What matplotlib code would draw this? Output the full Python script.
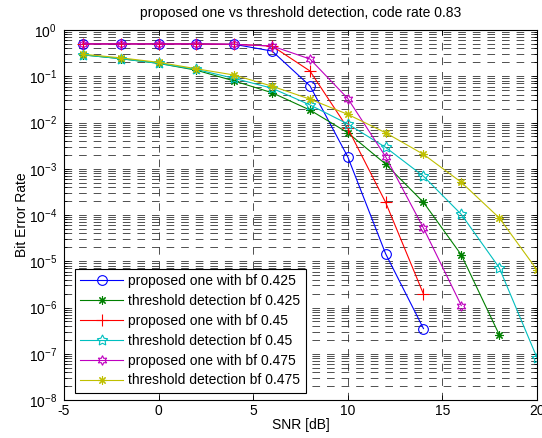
import matplotlib
matplotlib.use("Agg")
import matplotlib.pyplot as plt
from matplotlib.ticker import LogLocator, NullFormatter, FixedLocator

plt.rcParams['font.family'] = ['Liberation Sans', 'DejaVu Sans']
plt.rcParams['mathtext.fontset'] = 'custom'
plt.rcParams['mathtext.rm'] = 'Liberation Sans'
plt.rcParams['mathtext.it'] = 'Liberation Sans:italic'
plt.rcParams['mathtext.default'] = 'regular'
plt.rcParams['axes.unicode_minus'] = False
plt.rcParams['font.size'] = 10
plt.rcParams['lines.scale_dashes'] = False

title = "proposed one vs threshold detection, code rate 0.83"
xlabel = "SNR [dB]"
ylabel = "Bit Error Rate"

snr = [-4, -2, 0, 2, 4, 6, 8, 10, 12, 14, 16, 18, 20]

prop_0425 = [0.5, 0.5, 0.5, 0.5, 0.49, 0.35, 0.062, 1.8e-3, 1.45e-5, 3.5e-7]
thr_0425 = [0.29, 0.24, 0.19, 0.135, 0.079, 0.044, 0.0186, 6.0e-3, 1.26e-3, 1.88e-4, 1.37e-5, 2.6e-7]
prop_045 = [0.5, 0.5, 0.5, 0.5, 0.49, 0.45, 0.13, 7.5e-3, 1.87e-4, 1.95e-6]
thr_045 = [0.29, 0.24, 0.19, 0.14, 0.09, 0.055, 0.024, 9.3e-3, 2.9e-3, 6.9e-4, 1.03e-4, 7.3e-6, 8.2e-8]
prop_0475 = [0.5, 0.5, 0.5, 0.5, 0.49, 0.45, 0.236, 0.033, 1.82e-3, 5.2e-5, 1.1e-6]
thr_0475 = [0.3, 0.25, 0.2, 0.145, 0.106, 0.061, 0.032, 0.015, 6.0e-3, 2.05e-3, 5.1e-4, 8.7e-5, 6.5e-6]

labels = ["proposed one with bf 0.425", "threshold detection bf 0.425",
          "proposed one with bf 0.45", "threshold detection bf 0.45",
          "proposed one with bf 0.475", "threshold detection bf 0.475"]

asterisk = (8, 2, 0)
series = [
    (prop_0425, 'b', 'o', 7, 'none'),
    (thr_0425, 'g', asterisk, 6, 'g'),
    (prop_045, 'r', '+', 8, 'none'),
    (thr_045, 'c', (5, 1, 0), 8, 'none'),
    (prop_0475, 'm', (6, 1, 0), 7, 'none'),
    (thr_0475, 'y', asterisk, 6, 'y'),
]
colors = {'b': '#0000ff', 'g': '#008000', 'r': '#ff0000', 'c': '#00bfbf', 'm': '#bf00bf', 'y': '#bfbf00'}

fig = plt.figure(figsize=(5.42, 4.38), dpi=100)
ax = fig.add_axes([64/542, 1-400/438, (537-64)/542, 370/438])

for (vals, c, m, ms, mfc), lab in zip(series, labels):
    col = colors[c]
    ax.plot(snr[:len(vals)], vals, color=col, marker=m, markersize=ms,
            markerfacecolor=(col if mfc != 'none' else 'none'),
            markeredgecolor=col, markeredgewidth=0.8, linewidth=0.8, label=lab)

ax.set_yscale('log')
ax.set_xlim(-5, 20)
ax.set_ylim(1e-8, 1)
ax.xaxis.set_major_locator(FixedLocator([-5, 0, 5, 10, 15, 20]))
ax.yaxis.set_major_locator(LogLocator(base=10, numticks=20))
ax.yaxis.set_minor_locator(LogLocator(base=10, subs=range(2, 10), numticks=20))
ax.yaxis.set_minor_formatter(NullFormatter())

gridstyle = dict(color='0.2', linewidth=0.6, linestyle=(0, (5.5, 5.0)))
ax.grid(True, which='major', axis='x', **gridstyle)
ax.grid(True, which='both', axis='y', **gridstyle)
ax.set_axisbelow(True)

ax.tick_params(which='both', direction='in', top=True, right=True, width=0.6)
ax.tick_params(which='major', length=3.5, pad=5)
ax.tick_params(which='minor', length=2)
ax.tick_params(axis='x', which='major', pad=3)
for s in ax.spines.values():
    s.set_linewidth(0.8)

ax.set_title(title, fontsize=10, pad=9)
ax.set_xlabel(xlabel, fontsize=10, labelpad=0)
ax.set_ylabel(ylabel, fontsize=10, labelpad=0)

leg = ax.legend(loc='lower left', bbox_to_anchor=(0.023, 0.019), borderaxespad=0,
                fancybox=False, framealpha=1, edgecolor='black', fontsize=10,
                handlelength=3.1, handletextpad=0.35, labelspacing=0.42,
                borderpad=0.4)
leg.get_frame().set_linewidth(0.8)

fig.savefig('out.png', dpi=100)
